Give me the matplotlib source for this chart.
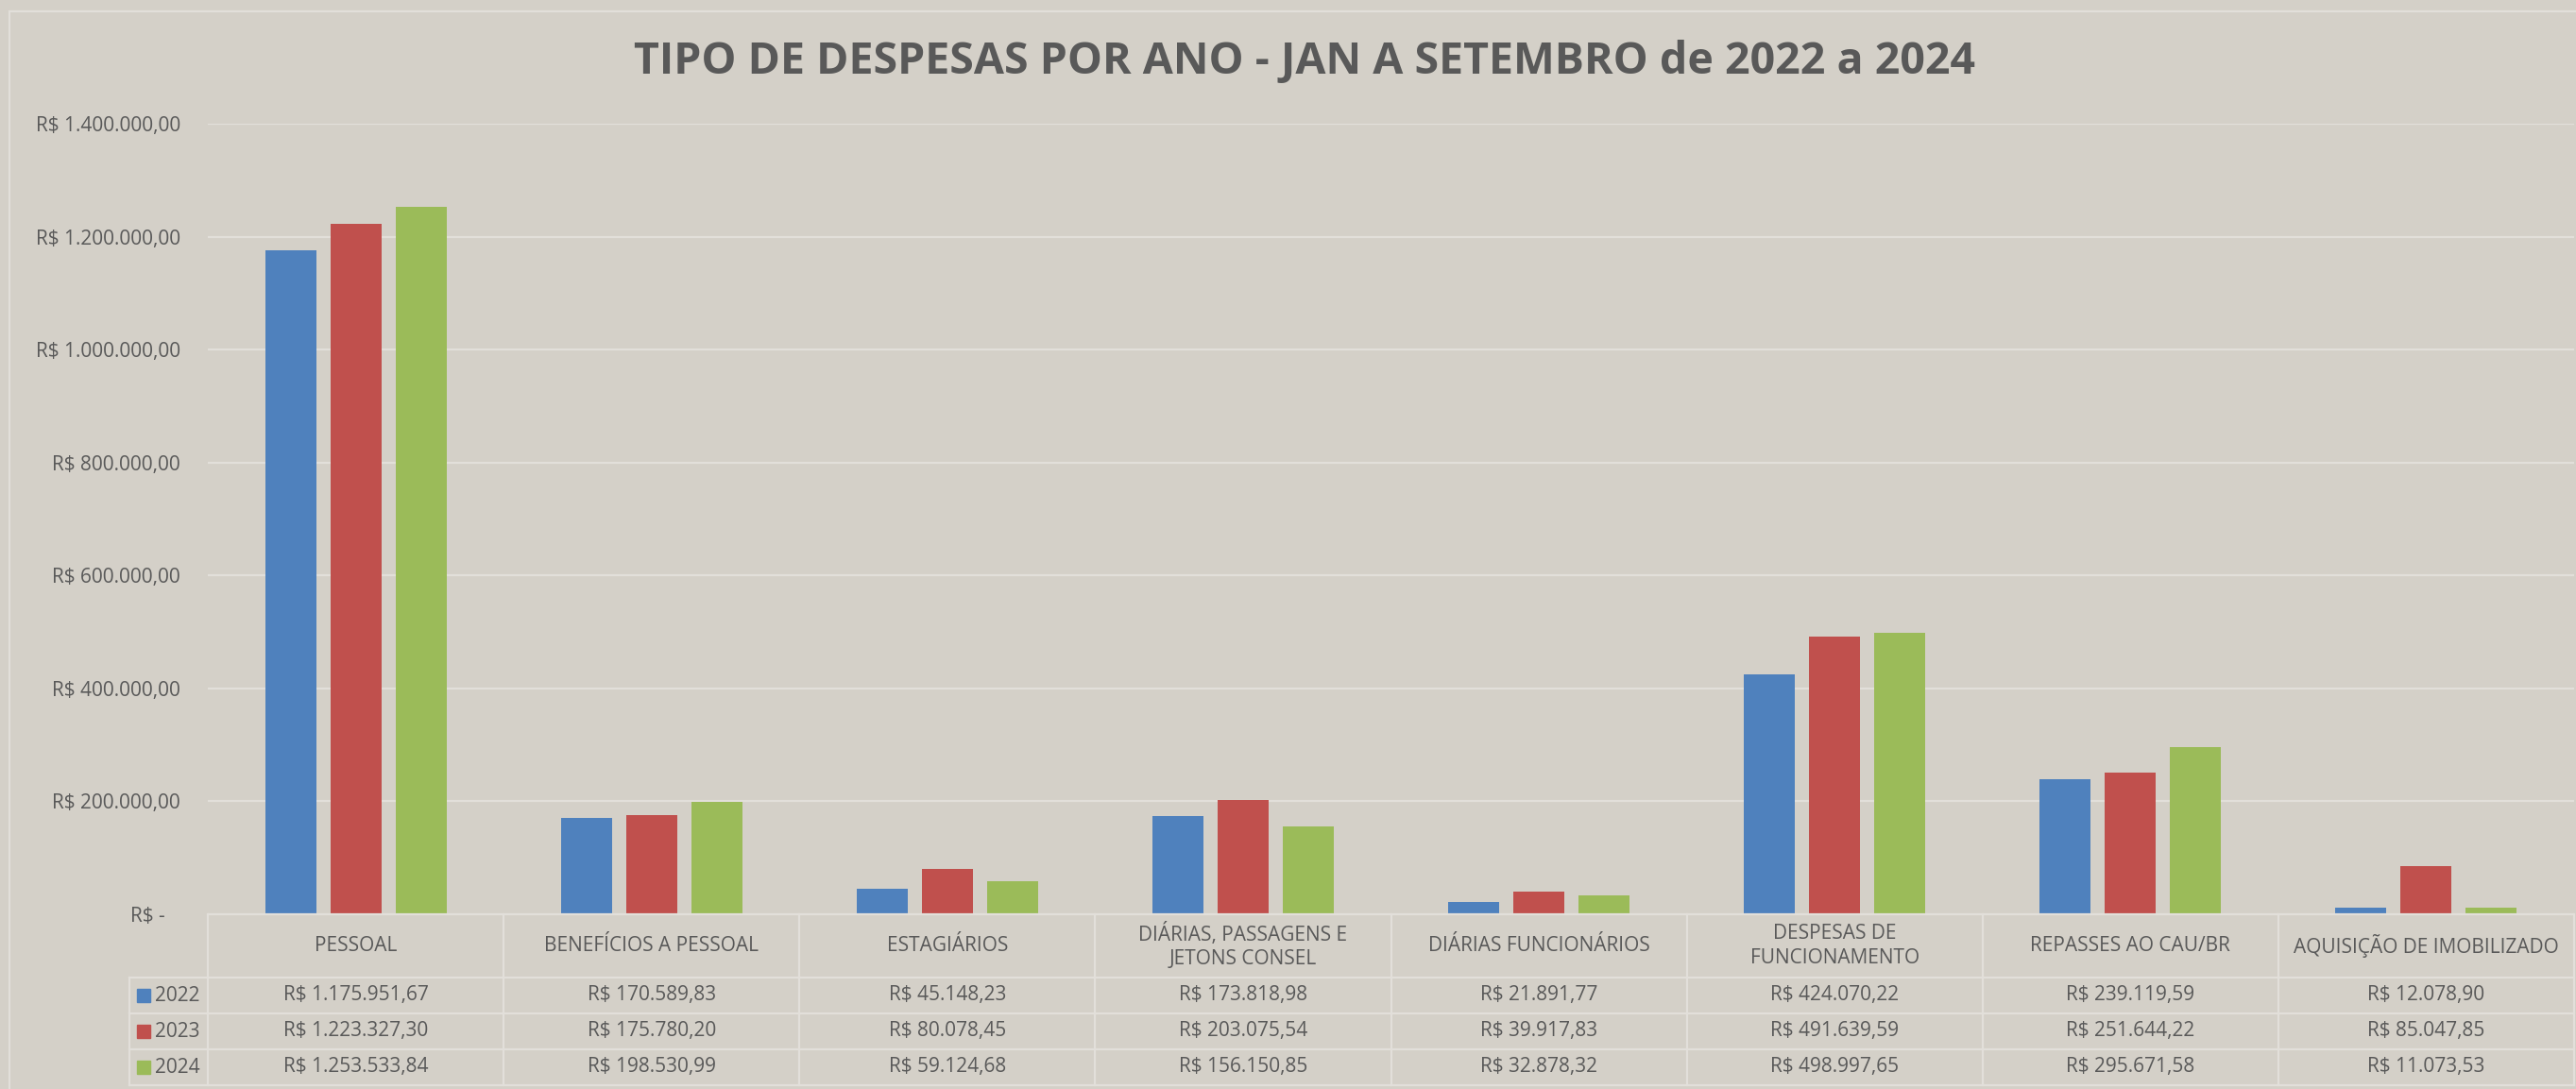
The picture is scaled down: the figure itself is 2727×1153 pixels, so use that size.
import numpy as np
import matplotlib.pyplot as plt
from matplotlib.patches import Rectangle

# Dados (jan a set de cada ano)
categorias = ["PESSOAL", "BENEFÍCIOS A PESSOAL", "ESTAGIÁRIOS",
              "DIÁRIAS, PASSAGENS E\nJETONS CONSEL", "DIÁRIAS FUNCIONÁRIOS",
              "DESPESAS DE\nFUNCIONAMENTO", "REPASSES AO CAU/BR",
              "AQUISIÇÃO DE IMOBILIZADO"]
anos = ["2022", "2023", "2024"]
valores_2022 = [1175951.67, 170589.83, 45148.23, 173818.98, 21891.77, 424070.22, 239119.59, 12078.90]
valores_2023 = [1223327.30, 175780.20, 80078.45, 203075.54, 39917.83, 491639.59, 251644.22, 85047.85]
valores_2024 = [1253533.84, 198530.99, 59124.68, 156150.85, 32878.32, 498997.65, 295671.58, 11073.53]
valores = [valores_2022, valores_2023, valores_2024]
yticks = [0, 200000, 400000, 600000, 800000, 1000000, 1200000, 1400000]

cores = ["#4F81BD", "#C0504D", "#9BBB59"]
fundo = "#d4d0c8"
linha = "#e2dfda"
texto = "#595959"

plt.rcParams['font.family'] = ['Open Sans', 'DejaVu Sans']


def brl(v):
    # formato R$ 1.234,56
    if v == 0:
        return "R$ -   "
    s = f"{v:,.2f}".replace(",", "X").replace(".", ",").replace("X", ".")
    return "R$ " + s


W, H = 2727, 1153
fig = plt.figure(figsize=(W / 100, H / 100), dpi=100, facecolor=fundo)

# posicoes em pixels
esq, dir_, topo, base = 220, 2725, 131, 968
ax = fig.add_axes([esq / W, 1 - base / H, (dir_ - esq) / W, (base - topo) / H])
ax.set_facecolor(fundo)
ax.set_xlim(-0.5, 7.5)
ax.set_ylim(0, 1400000)

x = np.arange(len(categorias))
larg = 0.1725
passo = 0.2205
for k in range(3):
    ax.bar(x + (k - 1) * passo, valores[k], width=larg, color=cores[k], zorder=3)

ax.set_yticks(yticks)
ax.set_yticklabels([brl(v) for v in yticks], fontsize=15, color=texto)
ax.tick_params(axis='y', length=0, pad=21)
ax.set_xticks([])
ax.yaxis.grid(True, color=linha, lw=1.6)
ax.set_axisbelow(True)
for s in ax.spines.values():
    s.set_visible(False)

# tabela de dados abaixo do grafico
tab_base = 1149
tax = fig.add_axes([esq / W, 1 - tab_base / H, (dir_ - esq) / W, (tab_base - base) / H])
tax.set_xlim(-0.5, 7.5)
tax.set_ylim(tab_base - base, 0)
tax.axis('off')

linhas_y = [0, 67, 105, 143, 181]
x_leg = -0.5 - (esq - 137) / 313
tax.plot([-0.5, 7.5], [0, 0], color=linha, lw=1.6, clip_on=False)
for yy in linhas_y[1:]:
    tax.plot([x_leg, 7.5], [yy, yy], color=linha, lw=1.6, clip_on=False)
for i in range(9):
    tax.plot([i - 0.5, i - 0.5], [0, 181], color=linha, lw=1.6, clip_on=False)
tax.plot([x_leg, x_leg], [67, 181], color=linha, lw=1.6, clip_on=False)

for i, cat in enumerate(categorias):
    tax.text(i, 33.5, cat, ha='center', va='center', fontsize=15, color=texto,
             linespacing=1.3)

for k in range(3):
    yc = (linhas_y[k + 1] + linhas_y[k + 2]) / 2
    tax.add_patch(Rectangle((-0.5 - (esq - 145) / 313, yc - 7), 14 / 313, 14,
                            color=cores[k], clip_on=False))
    tax.text(-0.5 - (esq - 164) / 313, yc, anos[k], ha='left', va='center',
             fontsize=15, color=texto, clip_on=False)
    for i in range(len(categorias)):
        tax.text(i, yc, brl(valores[k][i]), ha='center', va='center',
                 fontsize=15, color=texto)

# moldura clara do grafico
fig.patches.append(Rectangle((10 / W, -0.01), 1.0, 1 - 12 / H + 0.01,
                             transform=fig.transFigure, fill=False,
                             edgecolor=linha, lw=1.6))

fig.text(1381 / W, 1 - 65 / H, "TIPO DE DESPESAS POR ANO - JAN A SETEMBRO de 2022 a 2024",
         ha='center', va='center', fontsize=33.5, fontweight='bold', color=texto)

fig.savefig("out.png", dpi=100, facecolor=fundo)
